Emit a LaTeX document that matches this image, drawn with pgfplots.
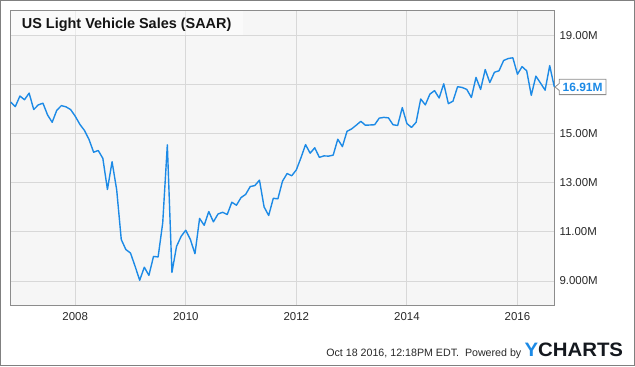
\documentclass[border=0pt]{standalone}
\usepackage{pgfplots}
\pgfplotsset{compat=1.18}
\usepackage{fontspec}
\setmainfont{Liberation Sans}
\definecolor{ln}{RGB}{28,138,230}
\definecolor{bgc}{RGB}{246,246,246}
\definecolor{gridc}{RGB}{216,216,216}
\definecolor{bordc}{RGB}{140,140,140}
\definecolor{outc}{RGB}{128,128,128}
\definecolor{tickc}{RGB}{40,40,40}
\definecolor{logoc}{RGB}{20,24,30}
\pgfplotstableread{
i v
0 16.29
1 16.11
2 16.54
3 16.39
4 16.66
5 15.99
6 16.18
7 16.25
8 15.77
9 15.47
10 15.96
11 16.15
12 16.10
13 15.99
14 15.72
15 15.39
16 15.14
17 14.77
18 14.25
19 14.32
20 14.00
21 12.73
22 13.86
23 12.73
24 10.69
25 10.28
26 10.14
27 9.60
28 9.03
29 9.56
30 9.23
31 10.00
32 9.98
33 11.37
34 14.55
35 9.35
36 10.41
37 10.82
38 11.07
39 10.69
40 10.11
41 11.55
42 11.27
43 11.83
44 11.41
45 11.73
46 11.80
47 11.71
48 12.21
49 12.09
50 12.40
51 12.53
52 12.85
53 12.89
54 13.11
55 12.02
56 11.67
57 12.37
58 12.35
59 13.07
60 13.38
61 13.29
62 13.53
63 14.02
64 14.56
65 14.21
66 14.43
67 14.04
68 14.10
69 14.09
70 14.13
71 14.78
72 14.48
73 15.10
74 15.20
75 15.35
76 15.51
77 15.35
78 15.36
79 15.37
80 15.64
81 15.67
82 15.65
83 15.37
84 15.34
85 16.07
86 15.42
87 15.26
88 15.47
89 16.42
90 16.18
91 16.62
92 16.76
93 16.46
94 17.04
95 16.23
96 16.33
97 16.92
98 16.89
99 16.81
100 16.48
101 17.30
102 16.81
103 17.62
104 17.09
105 17.51
106 17.57
107 17.99
108 18.07
109 18.10
110 17.43
111 17.74
112 17.57
113 16.57
114 17.35
115 17.07
116 16.78
117 17.78
118 16.91
}\saar
\begin{document}
\begin{tikzpicture}
\begin{scope}[x=1bp,y=1bp]
\useasboundingbox (0,0) rectangle (635,366);
\end{scope}
\begin{axis}[
  at={(10.7bp,61bp)}, anchor=south west, scale only axis,
  width=543.6bp, height=294.3bp,
  xmin=0, xmax=118, ymin=8.02, ymax=20.02,
  axis background/.style={fill=bgc},
  axis line style={draw=bordc, line width=0.9pt},
  xtick={14,38,62,86,110}, xticklabels={2008,2010,2012,2014,2016},
  ytick={9,11,13,15,17,19}, yticklabels={9.000M,11.00M,13.00M,15.00M,,19.00M},
  yticklabel pos=right,
  major tick length=0pt,
  grid=major, major grid style={draw=gridc, line width=0.9pt},
  tick label style={font=\fontsize{11.5}{13}\selectfont, text=tickc},
  xticklabel style={anchor=north, inner sep=0pt, yshift=-7bp},
  yticklabel style={anchor=west, inner sep=0pt, xshift=5bp},
  /pgf/number format/assume math mode=true,
  clip=false,
]
\addplot[ln, line width=1.4pt, line join=round] table[x=i, y=v] {\saar};
\coordinate (tip) at ([xshift=0.7bp]axis cs:118,16.91);
\end{axis}
\draw[draw=bordc, fill=white, line width=0.8pt]
  (tip) -- ++(4.3bp,3.5bp) -- ++(0bp,4.15bp) -- ++(46.7bp,0bp)
  -- ++(0bp,-15.3bp) -- ++(-46.7bp,0bp) -- ++(0bp,4.15bp) -- cycle;
\node[text=ln, font=\fontsize{12}{14}\selectfont\bfseries, inner sep=0pt]
  at ([xshift=27.65bp]tip) {16.91M};
\begin{scope}[x=1bp,y=1bp]
\fill[white, opacity=0.5] (11.2,354.8) rectangle (243,331.2);
\node[anchor=base west, inner sep=0pt, font=\fontsize{14.5}{17}\selectfont\bfseries, text=black!92]
  at (21.7,337.7) {US Light Vehicle Sales (SAAR)};
\node[anchor=base east, inner sep=0pt, font=\fontsize{10.7}{12}\selectfont, text=tickc]
  at (521.5,9.5) {Oct 18 2016, 12:18PM EDT.\ \ Powered by};
\node[anchor=base west, inner sep=0pt] at (524.3,9.3)
  {\scalebox{1.05}[1]{\fontsize{19.5}{21}\selectfont\bfseries\textcolor{ln}{Y}\textcolor{logoc}{CHARTS}}};
\draw[outc, line width=1.2bp] (0.6,0.6) rectangle (634.4,365.4);
\end{scope}
\end{tikzpicture}
\end{document}
